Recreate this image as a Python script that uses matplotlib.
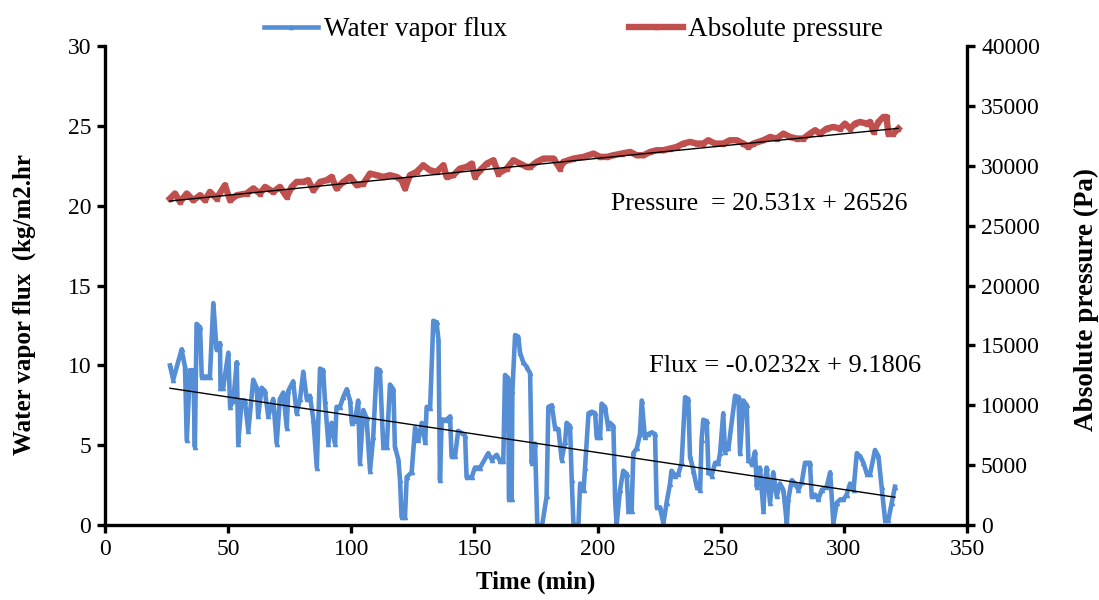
import numpy as np
import matplotlib.pyplot as plt

plt.rcParams['font.family'] = ['Liberation Serif', 'DejaVu Serif']

# water vapor flux (kg/m2.hr)
flux_t = [26.4, 27.7, 31.1, 32.5, 33.2, 34.5, 35.9, 36.5, 37.2, 38.6, 39.3, 41.1, 42.6,
          44.0, 45.3, 46.7, 46.9, 48.0, 50.1, 50.8, 52.1, 53.5, 54.1, 55.5, 56.8, 58.2,
          60.2, 61.6, 62.2, 63.6, 64.9, 66.3, 68.3, 69.7, 71.0, 72.4, 73.8, 74.4, 76.4,
          77.8, 79.2, 80.5, 81.9, 83.2, 84.6, 86.0, 87.3, 88.6, 89.3, 90.7, 92.0, 93.4,
          94.0, 95.4, 96.7, 98.1, 99.5, 100.2, 101.5, 102.8, 103.5, 104.9, 106.2, 107.6,
          108.9, 110.3, 111.6, 113.0, 114.4, 115.7, 117.1, 117.7, 119.1, 119.8, 120.4,
          121.8, 122.5, 124.5, 125.9, 127.2, 128.6, 130.0, 130.6, 132.0, 133.3, 134.6,
          135.4, 136.0, 136.7, 138.7, 140.1, 140.7, 142.1, 143.4, 146.2, 146.8, 148.9,
          150.2, 152.3, 155.6, 157.0, 159.0, 160.4, 161.7, 162.4, 163.7, 164.0, 165.1,
          165.4, 166.5, 167.8, 168.5, 169.8, 171.2, 172.6, 173.2, 174.6, 175.5, 176.2,
          177.5, 179.3, 180.0, 181.4, 182.7, 184.1, 185.4, 186.8, 187.4, 188.8, 189.5,
          190.2, 192.2, 192.9, 194.3, 194.9, 196.3, 197.7, 199.0, 199.6, 201.0, 201.6,
          203.0, 204.3, 205.0, 206.4, 207.1, 207.7, 209.1, 210.4, 211.8, 212.5, 213.8,
          214.5, 215.9, 217.2, 217.9, 219.2, 220.6, 221.9, 223.3, 224.0, 225.3, 226.7,
          228.0, 229.4, 230.0, 231.4, 232.8, 234.1, 235.5, 236.8, 237.5, 238.9, 240.2,
          241.6, 242.2, 242.9, 244.3, 245.0, 246.3, 247.7, 249.0, 249.7, 251.0, 251.7,
          253.1, 255.8, 257.2, 257.8, 259.2, 260.5, 261.2, 262.6, 263.9, 264.6, 265.9,
          267.3, 268.0, 268.6, 270.0, 271.3, 272.7, 274.0, 275.4, 276.8, 277.4, 278.8,
          280.2, 281.5, 282.9, 284.2, 286.2, 286.9, 288.3, 289.6, 291.0, 293.0, 294.4,
          295.7, 297.1, 298.5, 299.8, 301.1, 302.5, 303.9, 305.2, 306.6, 307.9, 309.3,
          310.6, 312.6, 314.0, 315.3, 316.7, 318.0, 319.4, 320.7]
flux_val = [10.0, 9.1, 11.0, 9.9, 5.3, 9.7, 9.7, 4.9, 12.6, 12.4, 9.3, 9.3, 9.3,
            13.9, 11.0, 11.4, 8.6, 8.6, 10.8, 7.4, 7.8, 10.2, 5.1, 7.8, 7.8, 5.9,
            9.1, 8.6, 6.8, 8.6, 8.4, 6.8, 7.9, 5.1, 7.9, 8.3, 6.1, 8.4, 9.0,
            7.0, 7.9, 9.6, 7.9, 8.1, 6.6, 3.6, 9.8, 9.7, 7.8, 5.1, 6.4, 5.1,
            7.4, 7.4, 8.0, 8.5, 7.8, 6.4, 6.5, 7.8, 3.9, 7.2, 6.7, 3.4,
            5.5, 9.8, 9.7, 4.9, 4.9, 8.8, 8.5, 4.9, 4.1, 2.8, 0.5,
            0.5, 3.0, 3.3, 6.1, 5.3, 6.4, 5.2, 7.4, 7.3, 12.8, 12.7,
            11.6, 2.8, 6.6, 6.6, 6.8, 4.3, 4.3, 5.9, 5.6, 3.0, 3.0,
            3.6, 3.6, 4.5, 4.1, 4.4, 4.0, 4.0, 9.4, 9.2, 1.6, 1.6,
            8.4, 11.9, 11.8, 10.8, 10.2, 9.9, 9.5, 3.9, 5.1, 0.0, 0.0,
            0.0, 1.8, 7.4, 7.5, 6.1, 6.0, 4.1, 5.2, 6.4, 6.2, 2.8,
            0.0, 0.0, 2.6, 2.2, 3.6, 7.0, 7.1, 7.0, 5.5, 5.5, 7.6,
            7.4, 6.1, 6.4, 6.2, 1.6, 0.0, 2.2, 3.4, 3.2, 0.9, 0.9,
            4.5, 4.8, 5.7, 7.8, 5.5, 5.7, 5.8, 5.7, 1.1, 1.1, 0.1,
            1.4, 2.6, 3.4, 3.1, 3.2, 3.9, 8.0, 7.9, 4.3, 3.4, 2.4,
            2.2, 5.3, 6.6, 6.5, 3.3, 3.1, 3.9, 3.9, 4.5, 7.0, 4.6,
            4.8, 8.1, 8.0, 4.5, 7.8, 7.5, 4.1, 3.8, 4.6, 2.4, 3.6,
            0.9, 2.8, 3.6, 1.4, 3.3, 1.8, 2.6, 2.2, 0.1, 1.6, 2.8,
            2.6, 2.2, 2.7, 3.9, 3.9, 1.8, 1.9, 1.6, 2.2, 2.4, 3.3,
            0.1, 1.4, 1.6, 1.6, 1.9, 2.6, 2.2, 4.5, 4.3, 3.9, 3.2,
            3.2, 4.7, 4.3, 2.4, 0.3, 0.3, 1.4, 2.4]

# absolute pressure (Pa)
pres_t = [26.4, 28.4, 30.5, 33.2, 35.9, 38.6, 40.6, 42.6, 45.3, 48.7, 50.8, 53.5, 57.5,
          60.2, 62.9, 65.0, 68.3, 71.0, 73.8, 75.8, 77.8, 80.5, 82.5, 84.6, 87.3, 90.0,
          92.0, 94.0, 96.7, 99.5, 102.2, 104.9, 107.6, 110.3, 113.0, 115.7, 118.4, 120.4,
          121.8, 123.8, 126.5, 129.2, 131.9, 134.6, 137.4, 138.7, 141.4, 144.1, 146.8,
          148.9, 150.2, 152.3, 155.0, 157.7, 159.7, 163.1, 165.8, 168.5, 171.2, 172.6,
          175.3, 178.0, 182.1, 184.7, 186.1, 190.2, 194.3, 198.3, 201.0, 203.7, 206.4,
          209.8, 213.2, 215.9, 218.6, 221.3, 224.0, 226.7, 229.4, 232.1, 234.8, 237.5,
          240.2, 242.9, 244.9, 247.7, 251.0, 253.7, 256.4, 259.2, 261.2, 263.2, 267.3,
          270.0, 272.7, 275.4, 278.1, 280.8, 283.5, 286.2, 288.3, 290.3, 293.0, 295.7,
          298.4, 300.4, 302.5, 304.5, 306.5, 309.2, 310.6, 312.0, 314.0, 316.0, 317.3,
          318.0, 320.0, 322.1]
pres_val = [27276, 27694, 26994, 27694, 27134, 27552, 27134, 27830, 27276, 28387, 27134,
            27552, 27694, 28112, 27694, 28247, 27830, 28247, 27412, 28247, 28665, 28665,
            28804, 27969, 28665, 28804, 29083, 28112, 28665, 29083, 28387, 28526, 29363,
            29222, 29083, 29222, 29083, 28804, 28112, 29222, 29500, 30056, 29639, 29500,
            30056, 29083, 29222, 29778, 29917, 30195, 29083, 29639, 30195, 30474, 29363,
            29778, 30474, 30195, 29917, 29917, 30335, 30614, 30614, 29778, 30335, 30614,
            30753, 31033, 30753, 30753, 30892, 31033, 31166, 30892, 30892, 31166, 31309,
            31309, 31448, 31587, 31866, 32006, 31866, 31866, 32144, 31866, 31866, 32144,
            32144, 31866, 31587, 31866, 32144, 32420, 32284, 32700, 32420, 32284, 32284,
            32700, 32978, 32700, 33118, 33256, 33118, 33535, 33118, 33535, 33673, 33535,
            33673, 32839, 33673, 34090, 34090, 32700, 32700, 33118]

# fitted trend lines from the chart
flux_slope, flux_icpt = -0.0232, 9.1806
pres_slope, pres_icpt = 20.531, 26526

blue = '#558ED5'
red = '#C0504D'

fig = plt.figure(figsize=(10.99, 6), dpi=100)
ax = fig.add_axes([0.0955, 0.125, 0.7845, 0.798])
ax2 = ax.twinx()

ax.plot(flux_t, flux_val, color=blue, lw=3.3, marker='^', ms=3, zorder=2,
        label='Water vapor flux')
ax2.plot(pres_t, pres_val, color=red, lw=4.6, marker='s', ms=3, zorder=2,
         label='Absolute pressure')

tt = np.array([flux_t[0], flux_t[-1]])
ax.plot(tt, flux_slope * tt + flux_icpt, color='black', lw=1, zorder=3)
tp = np.array([pres_t[0], pres_t[-1]])
ax2.plot(tp, pres_slope * tp + pres_icpt, color='black', lw=1, zorder=3)

ax.set_xlim(0, 350)
ax.set_ylim(0, 30)
ax2.set_ylim(0, 40000)
ax.set_xticks(np.arange(0, 351, 50))
ax.set_yticks(np.arange(0, 31, 5))
ax2.set_yticks(np.arange(0, 40001, 5000))

for a in (ax, ax2):
    a.spines['top'].set_visible(False)
    for s in ('left', 'right', 'bottom'):
        a.spines[s].set_linewidth(2.4)
    a.tick_params(width=2.4, length=6, labelsize=17, direction='out', pad=4)
ax.spines['right'].set_visible(False)
ax2.spines['left'].set_visible(False)
ax2.spines['bottom'].set_visible(False)

ax.set_xlabel('Time (min)', fontsize=18, fontweight='bold', labelpad=8)
ax.set_ylabel('Water vapor flux  (kg/m2.hr', fontsize=18, fontweight='bold')
ax.yaxis.set_label_coords(-0.08, 0.46)
ax2.set_ylabel('Absolute pressure (Pa)', fontsize=19.5, fontweight='bold')
ax2.yaxis.set_label_coords(1.124, 0.47)

ax2.text(265.5, 26800, 'Pressure  = 20.531x + 26526', fontsize=18.5, ha='center', va='center')
ax.text(276, 9.96, 'Flux = -0.0232x + 9.1806', fontsize=19, ha='center', va='center')

h1, l1 = ax.get_legend_handles_labels()
h2, l2 = ax2.get_legend_handles_labels()
fig.legend(h1 + h2, l1 + l2, loc='upper center', bbox_to_anchor=(0.522, 1.012), ncol=2,
           frameon=False, fontsize=19.5, columnspacing=4.5, handlelength=2.0, handletextpad=0.2)

fig.savefig('out.png', dpi=100)
